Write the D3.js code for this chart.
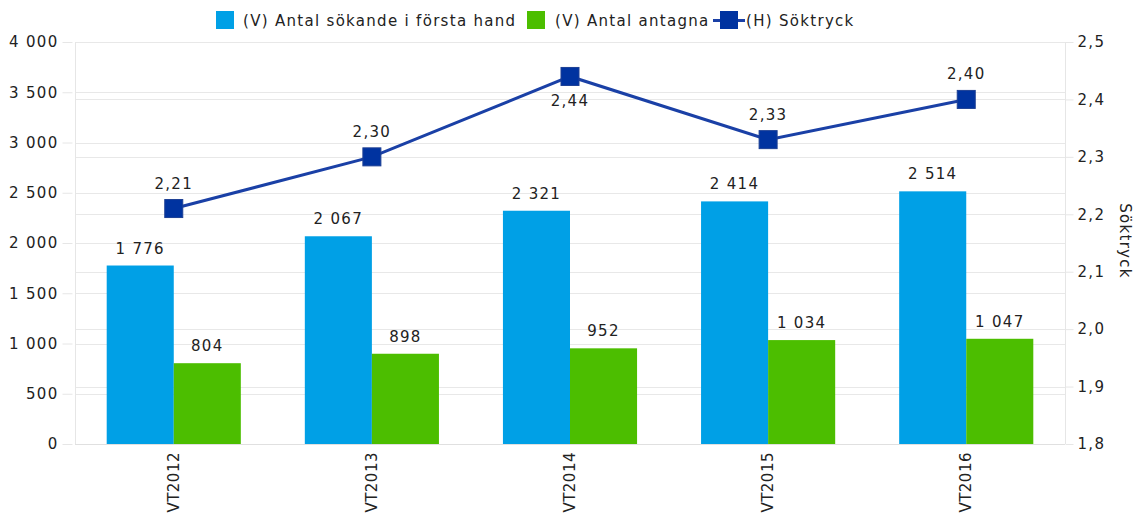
<!DOCTYPE html>
<html><head><meta charset="utf-8">
<script src="https://cdn.jsdelivr.net/npm/d3@7"></script>
<style>body{margin:0;background:#fff}svg{display:block}text{font-family:"DejaVu Sans",Verdana,sans-serif;fill:#222;letter-spacing:1.3px}</style>
</head><body><svg id="c" width="1138" height="516"></svg>
<script>
const categories=["VT2012","VT2013","VT2014","VT2015","VT2016"];
const sokande=[1776,2067,2321,2414,2514];
const antagna=[804,898,952,1034,1047];
const soktryck=[2.21,2.30,2.44,2.33,2.40];
const leftTicks=[0,500,1000,1500,2000,2500,3000,3500,4000];
const rightTicks=[1.8,1.9,2.0,2.1,2.2,2.3,2.4,2.5];
const seriesNames=["(V) Antal sökande i första hand","(V) Antal antagna","(H) Söktryck"];
const colors=["#00a0e6","#4cbe00","#0033a0"];

const FS=15;
const svg=d3.select("#c");
const L=75,R=1065,T=42,B=444;
const x=d3.scaleBand().domain(categories).range([L,R]).paddingInner(0.323).paddingOuter(0.16);
const xs=d3.scaleBand().domain([0,1]).range([0,x.bandwidth()]);
const yL=d3.scaleLinear().domain([0,4000]).range([B,T]);
const yR=d3.scaleLinear().domain([1.8,2.5]).range([B,T]);
const fmt=v=>d3.format(",")(v).replace(/,/g," ");
const fmtR=v=>d3.format(".1f")(v).replace(".",",");
const fmtR2=v=>d3.format(".2f")(v).replace(".",",");

// grid
svg.append("g").selectAll("line").data(leftTicks).join("line")
 .attr("x1",L).attr("x2",R).attr("y1",d=>Math.round(yL(d))+0.5).attr("y2",d=>Math.round(yL(d))+0.5).attr("stroke","#e8e8e8");
svg.append("g").selectAll("line").data(rightTicks).join("line")
 .attr("x1",L).attr("x2",R).attr("y1",d=>Math.round(yR(d))+0.5).attr("y2",d=>Math.round(yR(d))+0.5).attr("stroke","#e8e8e8");

// left axis
const gl=svg.append("g").attr("transform",`translate(${L+0.5},0)`)
 .call(d3.axisLeft(yL).tickValues(leftTicks).tickFormat(fmt).tickSize(12).tickPadding(5));
gl.attr("font-family",null);
gl.select(".domain").attr("stroke","#e6e6e6").attr("d",`M0,${T}V${B}`);
gl.selectAll(".tick line").attr("stroke","#e6e6e6").attr("x1",-3).attr("x2",-13);
gl.selectAll(".tick text").attr("font-size",FS).attr("fill","#222").attr("x",-17);

// right axis
const gr=svg.append("g").attr("transform",`translate(${R+0.5},0)`)
 .call(d3.axisRight(yR).tickValues(rightTicks).tickFormat(fmtR).tickSize(8).tickPadding(5));
gr.attr("font-family",null);
gr.select(".domain").attr("stroke","#e6e6e6").attr("d",`M0,${T}V${B}`);
gr.selectAll(".tick line").attr("stroke","#e6e6e6");
gr.selectAll(".tick text").attr("font-size",FS).attr("fill","#222").attr("x",12);
svg.append("text").attr("transform",`translate(1120,241) rotate(90)`).attr("text-anchor","middle")
 .attr("font-size",FS).text("Söktryck");

// bars
const g=svg.append("g");
[sokande,antagna].forEach((vals,si)=>{
 g.selectAll(null).data(vals).join("rect")
  .attr("x",(d,i)=>x(categories[i])+xs(si)).attr("width",xs.bandwidth())
  .attr("y",d=>yL(d)).attr("height",d=>B-yL(d)).attr("fill",colors[si]);
 g.selectAll(null).data(vals).join("text")
  .attr("x",(d,i)=>x(categories[i])+xs(si)+xs.bandwidth()/2).attr("y",d=>yL(d)-12)
  .attr("text-anchor","middle").attr("font-size",FS).text(fmt);
});

// x axis baseline
svg.append("line").attr("x1",L).attr("x2",R).attr("y1",B+0.5).attr("y2",B+0.5).attr("stroke","#e0e0e0");
// x labels
svg.append("g").selectAll("text").data(categories).join("text")
 .attr("transform",d=>`translate(${x(d)+x.bandwidth()/2+5},452) rotate(-90)`)
 .attr("text-anchor","end").attr("font-size",FS).style("letter-spacing","0.5px").text(d=>d);

// line
const cx=i=>x(categories[i])+x.bandwidth()/2;
svg.append("path").datum(soktryck).attr("fill","none").attr("stroke","#1a40a6").attr("stroke-width",3)
 .attr("d",d3.line().x((d,i)=>cx(i)).y(d=>yR(d)));
svg.append("g").selectAll("rect").data(soktryck).join("rect")
 .attr("x",(d,i)=>cx(i)-9).attr("y",d=>yR(d)-9).attr("width",18).attr("height",18)
 .attr("fill",colors[2]).attr("stroke","#1c3f94").attr("stroke-width",1);
svg.append("g").selectAll("text").data(soktryck).join("text")
 .attr("x",(d,i)=>cx(i)).attr("y",(d,i)=>i===2?yR(d)+30:yR(d)-20)
 .attr("text-anchor","middle").attr("font-size",FS).text(fmtR2);

// legend
const lg=svg.append("g");
lg.append("rect").attr("x",216).attr("y",11).attr("width",18).attr("height",18).attr("fill",colors[0]);
lg.append("text").attr("x",243).attr("y",26).attr("font-size",FS).text(seriesNames[0]);
lg.append("rect").attr("x",527).attr("y",11).attr("width",18).attr("height",18).attr("fill",colors[1]);
lg.append("text").attr("x",555).attr("y",26).attr("font-size",FS).text(seriesNames[1]);
lg.append("line").attr("x1",713).attr("x2",745).attr("y1",20.5).attr("y2",20.5).attr("stroke","#1a40a6").attr("stroke-width",3);
lg.append("rect").attr("x",720).attr("y",11).attr("width",18).attr("height",18).attr("fill",colors[2]);
lg.append("text").attr("x",746).attr("y",26).attr("font-size",FS).text(seriesNames[2]);
</script></body></html>
